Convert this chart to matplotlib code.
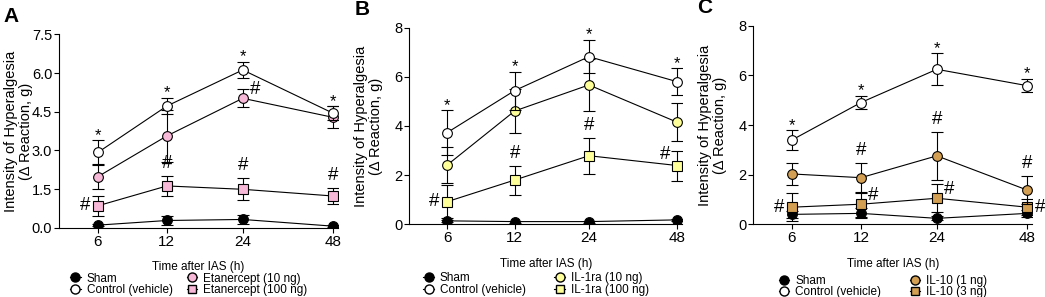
import numpy as np
import matplotlib.pyplot as plt
from matplotlib.lines import Line2D

plt.rcParams['font.family'] = ['Liberation Sans', 'DejaVu Sans']

hours = ["6", "12", "24", "48"]
xpos = [0, 1, 2.10, 3.41]

# panel A
a_sham = [0.10, 0.28, 0.32, 0.06]
a_sham_err = [0.05, 0.19, 0.17, 0.04]
a_ctrl = [2.92, 4.72, 6.12, 4.44]
a_ctrl_err = [0.48, 0.32, 0.32, 0.28]
a_lo = [1.98, 3.56, 5.02, 4.28]
a_lo_err = [0.48, 1.0, 0.35, 0.43]
a_hi = [0.85, 1.62, 1.49, 1.23]
a_hi_err = [0.38, 0.40, 0.42, 0.32]

# panel B
b_sham = [0.14, 0.11, 0.11, 0.18]
b_sham_err = [0.05, 0.04, 0.04, 0.05]
b_ctrl = [3.73, 5.44, 6.82, 5.80]
b_ctrl_err = [0.92, 0.77, 0.68, 0.55]
b_lo = [2.41, 4.61, 5.67, 4.15]
b_lo_err = [0.75, 0.88, 1.06, 0.77]
b_hi = [0.92, 1.80, 2.79, 2.39]
b_hi_err = [0.68, 0.59, 0.74, 0.61]

# panel C
c_sham = [0.40, 0.44, 0.24, 0.44]
c_sham_err = [0.15, 0.20, 0.08, 0.15]
c_ctrl = [3.40, 4.91, 6.25, 5.59]
c_ctrl_err = [0.40, 0.27, 0.65, 0.27]
c_lo = [2.03, 1.88, 2.76, 1.38]
c_lo_err = [0.46, 0.61, 0.98, 0.58]
c_hi = [0.69, 0.81, 1.05, 0.69]
c_hi_err = [0.56, 0.51, 0.56, 0.33]

pink = '#F7B8D8'
yellow = '#FFFF9A'
brown = '#D39F52'

fig = plt.figure(figsize=(10.45, 2.97), dpi=100)
axA = fig.add_axes([0.0567, 0.2333, 0.2667, 0.651])
axB = fig.add_axes([0.3917, 0.2448, 0.261, 0.662])
axC = fig.add_axes([0.7209, 0.2448, 0.2667, 0.668])


def series(ax, y, err, marker, face, z):
    ax.errorbar(xpos, y, yerr=err, color='black', lw=0.8, elinewidth=0.8,
                capsize=4.5, capthick=0.8, marker=marker, ms=7 if marker == 'o' else 6.5,
                mfc=face, mec='black', mew=0.8, zorder=z)


def mark(ax, x, y, s, dx, dy, size=13.5):
    ax.annotate(s, (x, y), xytext=(dx, dy), textcoords='offset points',
                ha='center', va='center', fontsize=size, clip_on=False)


panels = [
    (axA, 'A', a_sham, a_sham_err, a_ctrl, a_ctrl_err, a_lo, a_lo_err, a_hi, a_hi_err,
     pink, 'Etanercept (10 ng)', 'Etanercept (100 ng)', 7.5, [0, 1.5, 3.0, 4.5, 6.0, 7.5], 1.2, -0.232),
    (axB, 'B', b_sham, b_sham_err, b_ctrl, b_ctrl_err, b_lo, b_lo_err, b_hi, b_hi_err,
     yellow, 'IL-1ra (10 ng)', 'IL-1ra (100 ng)', 8, [0, 2, 4, 6, 8], 2.4, -0.245),
    (axC, 'C', c_sham, c_sham_err, c_ctrl, c_ctrl_err, c_lo, c_lo_err, c_hi, c_hi_err,
     brown, 'IL-10 (1 ng)', 'IL-10 (3 ng)', 8, [0, 2, 4, 6, 8], 2.4, -0.255),
]

for ax, letter, sh, she, ct, cte, lo, loe, hi, hie, col, lab_lo, lab_hi, ytop, yt, cs, ly in panels:
    series(ax, sh, she, 'o', 'black', 3)
    series(ax, hi, hie, 's', col, 4)
    series(ax, lo, loe, 'o', col, 5)
    series(ax, ct, cte, 'o', 'white', 6)
    for i in range(4):
        mark(ax, xpos[i], ct[i] + cte[i], '*', 0, 3.5, 12)
    ax.set_ylim(0, ytop)
    ax.set_yticks(yt)
    if letter == 'A':
        ax.set_yticklabels(['%.1f' % v for v in yt])
    ax.set_xlim(-0.56, 3.48)
    ax.set_xticks(xpos)
    ax.set_xticklabels(hours)
    ax.spines['top'].set_visible(False)
    ax.spines['right'].set_visible(False)
    ax.spines['left'].set_bounds(0, ytop)
    ax.spines['bottom'].set_bounds(-0.56, 3.48)
    ax.tick_params(width=0.8, length=3.5, pad=1.5)
    ax.tick_params(axis='x', labelsize=11)
    ax.tick_params(axis='y', labelsize=10.5)
    ax.set_ylabel('Intensity of Hyperalgesia\n(\u0394 Reaction, g)', fontsize=10.5,
                  linespacing=1.1)
    ax.yaxis.set_label_coords(-0.095, 0.5)
    ax.set_xlabel('Time after IAS (h)', fontsize=8.5, labelpad=9)
    ax.text(-0.2, 1.065, letter, transform=ax.transAxes, fontsize=15, fontweight='bold',
            ha='left', va='baseline')
    handles = [
        Line2D([], [], color='black', lw=0.8, marker='o', ms=6.5, mfc='black', mec='black'),
        Line2D([], [], color='black', lw=0.8, marker='o', ms=6.5, mfc='white', mec='black'),
        Line2D([], [], color='black', lw=0.8, marker='o', ms=6.5, mfc=col, mec='black'),
        Line2D([], [], color='black', lw=0.8, marker='s', ms=6, mfc=col, mec='black'),
    ]
    ax.legend(handles, ['Sham', 'Control (vehicle)', lab_lo, lab_hi], ncol=2,
              loc='upper center', bbox_to_anchor=(0.465, ly), frameon=False,
              fontsize=8.5, handlelength=0.9, handletextpad=0.5, columnspacing=cs,
              labelspacing=-0.05, borderaxespad=0, borderpad=0)

# panel A hashes
mark(axA, xpos[2], a_lo[2], '#', 9, 6)
mark(axA, xpos[0], a_hi[0], '#', -9.5, 0)
for i in [1, 2, 3]:
    mark(axA, xpos[i], a_hi[i] + a_hi_err[i], '#', 0, 9)

# panel B hashes
mark(axB, xpos[0], b_hi[0], '#', -9.5, 0)
for i in [1, 2]:
    mark(axB, xpos[i], b_hi[i] + b_hi_err[i], '#', 0, 9)
mark(axB, xpos[3], b_hi[3], '#', -8.5, 8)

# panel C hashes
for i in [1, 2, 3]:
    mark(axC, xpos[i], c_lo[i] + c_lo_err[i], '#', 0, 9)
mark(axC, xpos[0], c_hi[0], '#', -9.5, 0)
mark(axC, xpos[1], c_hi[1], '#', 9, 6.5)
mark(axC, xpos[2], c_hi[2], '#', 9, 6.5)
mark(axC, xpos[3], c_hi[3], '#', 9.5, 0)

fig.savefig('out.png', dpi=100)
